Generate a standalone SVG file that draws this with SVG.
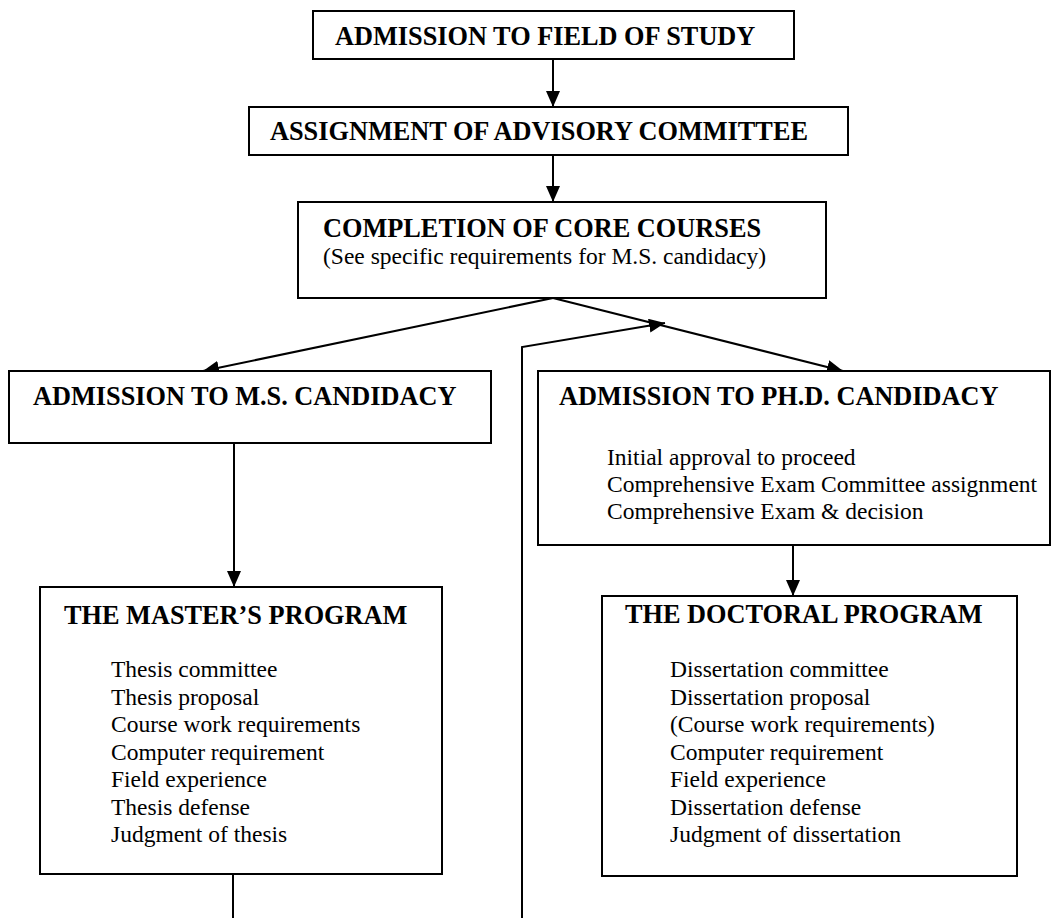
<svg xmlns="http://www.w3.org/2000/svg" width="1057" height="918" viewBox="0 0 1057 918">
<style>
.box{fill:#fff;stroke:#000;stroke-width:2}
.t{font-family:"Liberation Serif","Times New Roman",serif;font-weight:bold;font-size:26.3px;fill:#000}
.r{font-family:"Liberation Serif","Times New Roman",serif;font-size:23.5px;fill:#000}
.c{fill:none;stroke:#000;stroke-width:2}
</style>
<defs>
<marker id="ah" markerUnits="userSpaceOnUse" markerWidth="16" markerHeight="14" refX="16" refY="7" orient="auto">
<path d="M0,0 L16,7 L0,14 z" fill="#000"/>
</marker>
</defs>
<rect width="1057" height="918" fill="#fff"/>
<g id="connectors">
<line class="c" x1="553" y1="59" x2="553" y2="107" marker-end="url(#ah)"/>
<line class="c" x1="553" y1="155" x2="553" y2="202" marker-end="url(#ah)"/>
<line class="c" x1="553" y1="298" x2="203" y2="371" marker-end="url(#ah)"/>
<line class="c" x1="553" y1="298" x2="843" y2="371" marker-end="url(#ah)"/>
<polyline class="c" points="522,918 522,347 665,323" marker-end="url(#ah)"/>
<line class="c" x1="234" y1="443" x2="234" y2="587" marker-end="url(#ah)"/>
<line class="c" x1="793" y1="545" x2="793" y2="596" marker-end="url(#ah)"/>
<line class="c" x1="233" y1="874" x2="233" y2="918"/>
</g>
<g id="n-admission">
<rect class="box" x="313" y="11" width="481" height="48"/>
<text class="t" x="335" y="45">ADMISSION TO FIELD OF STUDY</text>
</g>
<g id="n-advisory">
<rect class="box" x="249" y="107" width="599" height="48"/>
<text class="t" x="270" y="140">ASSIGNMENT OF ADVISORY COMMITTEE</text>
</g>
<g id="n-core">
<rect class="box" x="298" y="202" width="528" height="96"/>
<text class="t" x="323" y="237">COMPLETION OF CORE COURSES</text>
<text class="r" x="323" y="264">(See specific requirements for M.S. candidacy)</text>
</g>
<g id="n-ms">
<rect class="box" x="9" y="371" width="482" height="72"/>
<text class="t" x="33" y="405">ADMISSION TO M.S. CANDIDACY</text>
</g>
<g id="n-phd">
<rect class="box" x="538" y="371" width="512" height="174"/>
<text class="t" x="559" y="405">ADMISSION TO PH.D. CANDIDACY</text>
<text class="r" x="607" y="465">Initial approval to proceed</text>
<text class="r" x="607" y="492">Comprehensive Exam Committee assignment</text>
<text class="r" x="607" y="519">Comprehensive Exam &amp; decision</text>
</g>
<g id="n-master">
<rect class="box" x="40" y="587" width="402" height="287"/>
<text class="t" x="64" y="624">THE MASTER’S PROGRAM</text>
<text class="r" x="111" y="677">Thesis committee</text>
<text class="r" x="111" y="704.5">Thesis proposal</text>
<text class="r" x="111" y="732">Course work requirements</text>
<text class="r" x="111" y="759.5">Computer requirement</text>
<text class="r" x="111" y="787">Field experience</text>
<text class="r" x="111" y="814.5">Thesis defense</text>
<text class="r" x="111" y="842">Judgment of thesis</text>
</g>
<g id="n-doctoral">
<rect class="box" x="602" y="596" width="415" height="280"/>
<text class="t" x="625" y="623">THE DOCTORAL PROGRAM</text>
<text class="r" x="670" y="677">Dissertation committee</text>
<text class="r" x="670" y="704.5">Dissertation proposal</text>
<text class="r" x="670" y="732">(Course work requirements)</text>
<text class="r" x="670" y="759.5">Computer requirement</text>
<text class="r" x="670" y="787">Field experience</text>
<text class="r" x="670" y="814.5">Dissertation defense</text>
<text class="r" x="670" y="842">Judgment of dissertation</text>
</g>
</svg>
